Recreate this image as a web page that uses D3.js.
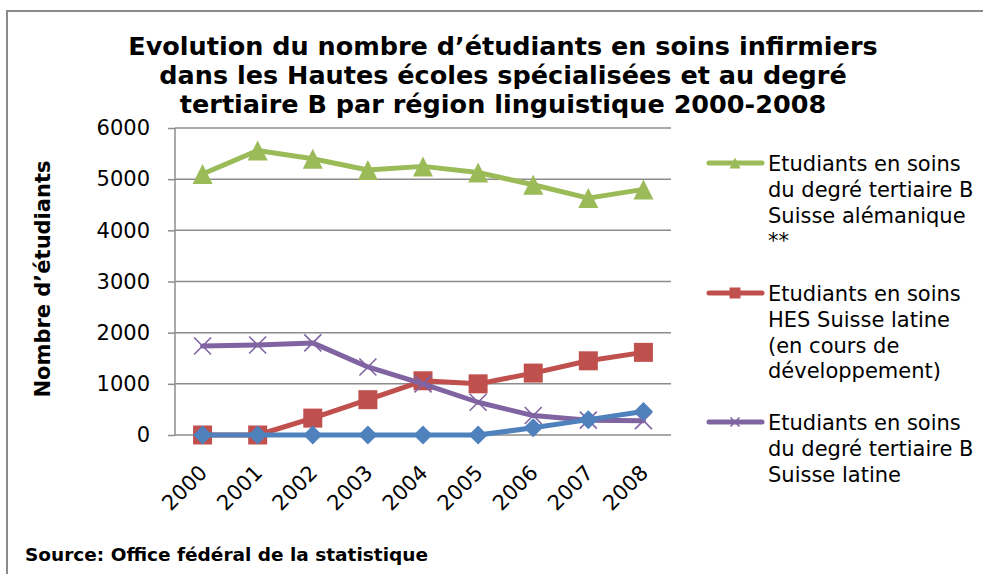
<!DOCTYPE html>
<html>
<head>
<meta charset="utf-8">
<script src="https://cdn.jsdelivr.net/npm/d3@7"></script>
<style>
	body { margin: 0; background: #fff; }
	svg { display: block; font-family: "DejaVu Sans", Verdana, sans-serif; }
</style>
</head>
<body>
<svg id="chart" width="983" height="574"></svg>
<script>
	var years = ['2000', '2001', '2002', '2003', '2004', '2005', '2006', '2007', '2008'];
	var yTicks = [0, 1000, 2000, 3000, 4000, 5000, 6000];

	var alemaniqueB = [5100, 5560, 5400, 5180, 5250, 5130, 4890, 4630, 4800];
	var hesLatine = [0, 0, 330, 690, 1060, 1000, 1210, 1450, 1615];
	var latineB = [1740, 1760, 1800, 1330, 1000, 640, 380, 290, 280];
	var autres = [0, 0, 0, 0, 0, 0, 140, 300, 460];

	var titleLines = [
		'Evolution du nombre d\u2019\u00e9tudiants en soins infirmiers',
		'dans les Hautes \u00e9coles sp\u00e9cialis\u00e9es et au degr\u00e9',
		'tertiaire B par r\u00e9gion linguistique 2000-2008'
	];

	// drawn in this order: the last one ends up on top
	var series = [
		{ values: alemaniqueB, color: '#9BBB59', marker: 'triangle', size: 20,
			legend: ['Etudiants en soins', 'du degr\u00e9 tertiaire B', 'Suisse al\u00e9manique', '**'] },
		{ values: hesLatine, color: '#C0504D', marker: 'square', size: 19,
			legend: ['Etudiants en soins', 'HES Suisse latine', '(en cours de', 'd\u00e9veloppement)'] },
		{ values: latineB, color: '#8064A2', marker: 'x', size: 17,
			legend: ['Etudiants en soins', 'du degr\u00e9 tertiaire B', 'Suisse latine'] },
		{ values: autres, color: '#4F81BD', marker: 'diamond', size: 19, legend: null }
	];

	var svg = d3.select('#chart');
	var plotLeft = 175, plotRight = 671, plotTop = 128, plotBottom = 435;

	var x = d3.scalePoint().domain(years).range([plotLeft, plotRight]).padding(0.5);
	var y = d3.scaleLinear().domain([0, 6000]).range([plotBottom, plotTop]);

	// frame
	svg.append('path').attr('d', 'M7,574V11H983').attr('fill', 'none')
		.attr('stroke', '#8a8a8a').attr('stroke-width', 2);

	// title
	svg.append('text').attr('text-anchor', 'middle').attr('font-weight', 'bold').attr('font-size', 25.5)
		.selectAll('tspan').data(titleLines).enter().append('tspan')
		.attr('x', 503).attr('y', function(d, i) { return 55 + i * 29; }).text(function(d) { return d; });

	// grid
	svg.append('g').selectAll('line').data(yTicks.slice(1)).enter().append('line')
		.attr('x1', plotLeft).attr('x2', plotRight).attr('y1', y).attr('y2', y)
		.attr('stroke', '#8c8c8c').attr('stroke-width', 1.5);

	// y axis
	var yAxis = svg.append('g').attr('transform', 'translate(' + plotLeft + ',0)')
		.call(d3.axisLeft(y).tickValues(yTicks).tickSize(7).tickPadding(18).tickFormat(d3.format('d')));
	yAxis.selectAll('line, path').attr('stroke', '#8c8c8c').attr('stroke-width', 1.5);
	yAxis.select('.domain').attr('d', 'M0,' + plotBottom + 'V' + plotTop);
	yAxis.selectAll('text').attr('font-size', 21).attr('fill', '#000').attr('font-family', '"DejaVu Sans", Verdana, sans-serif');

	// x axis
	svg.append('line').attr('x1', plotLeft).attr('x2', plotRight).attr('y1', plotBottom).attr('y2', plotBottom)
		.attr('stroke', '#8c8c8c').attr('stroke-width', 1.5);
	svg.append('g').selectAll('text').data(years).enter().append('text')
		.attr('font-size', 21).attr('text-anchor', 'end')
		.attr('transform', function(d) { return 'translate(' + (x(d) + 6) + ',474) rotate(-45)'; })
		.text(function(d) { return d; });

	// y axis title
	svg.append('text').attr('font-weight', 'bold').attr('font-size', 21).attr('text-anchor', 'middle')
		.attr('transform', 'translate(50,279) rotate(-90)').text('Nombre d\u2019\u00e9tudiants');

	var markerPath = function(type, size) {
		var h = size / 2;
		if (type === 'diamond') return 'M0,' + (-h) + 'L' + h + ',0L0,' + h + 'L' + (-h) + ',0Z';
		if (type === 'square') return 'M' + (-h) + ',' + (-h) + 'h' + size + 'v' + size + 'h' + (-size) + 'Z';
		if (type === 'triangle') return 'M0,' + (-h) + 'L' + h + ',' + h + 'L' + (-h) + ',' + h + 'Z';
		return 'M' + (-h) + ',' + (-h) + 'L' + h + ',' + h + 'M' + h + ',' + (-h) + 'L' + (-h) + ',' + h;
	};

	var drawMarker = function(g, type, color, size) {
		var p = g.append('path').attr('d', markerPath(type, size));
		if (type === 'x') {
			p.attr('fill', 'none').attr('stroke', color).attr('stroke-width', 1.6);
		} else {
			p.attr('fill', color);
		}
	};

	var line = d3.line().x(function(d, i) { return x(years[i]); }).y(function(d) { return y(d); });

	series.forEach(function(s) {
		var g = svg.append('g');
		g.append('path').datum(s.values).attr('d', line).attr('fill', 'none')
			.attr('stroke', s.color).attr('stroke-width', 5).attr('stroke-linejoin', 'round').attr('stroke-linecap', 'round');
		s.values.forEach(function(v, i) {
			var m = g.append('g').attr('transform', 'translate(' + x(years[i]) + ',' + y(v) + ')');
			drawMarker(m, s.marker, s.color, s.size);
		});
	});

	// legend (only the first three series have an entry)
	var legendTop = [171, 301, 430];
	series.slice(0, 3).forEach(function(s, k) {
		var g = svg.append('g').attr('transform', 'translate(0,' + legendTop[k] + ')');
		var ly = -8;
		g.append('line').attr('x1', 709).attr('x2', 762).attr('y1', ly).attr('y2', ly)
			.attr('stroke', s.color).attr('stroke-width', 5).attr('stroke-linecap', 'round');
		var m = g.append('g').attr('transform', 'translate(735,' + ly + ')');
		drawMarker(m, s.marker, s.color, s.marker === 'x' ? 9 : 11);
		g.append('text').attr('font-size', 21).selectAll('tspan').data(s.legend).enter().append('tspan')
			.attr('x', 768).attr('y', function(d, i) { return i * 25.8; }).text(function(d) { return d; });
	});

	// source
	svg.append('text').attr('x', 25).attr('y', 561).attr('font-size', 18.5).attr('font-weight', 'bold')
		.text('Source: Office f\u00e9d\u00e9ral de la statistique');
</script>
</body>
</html>
